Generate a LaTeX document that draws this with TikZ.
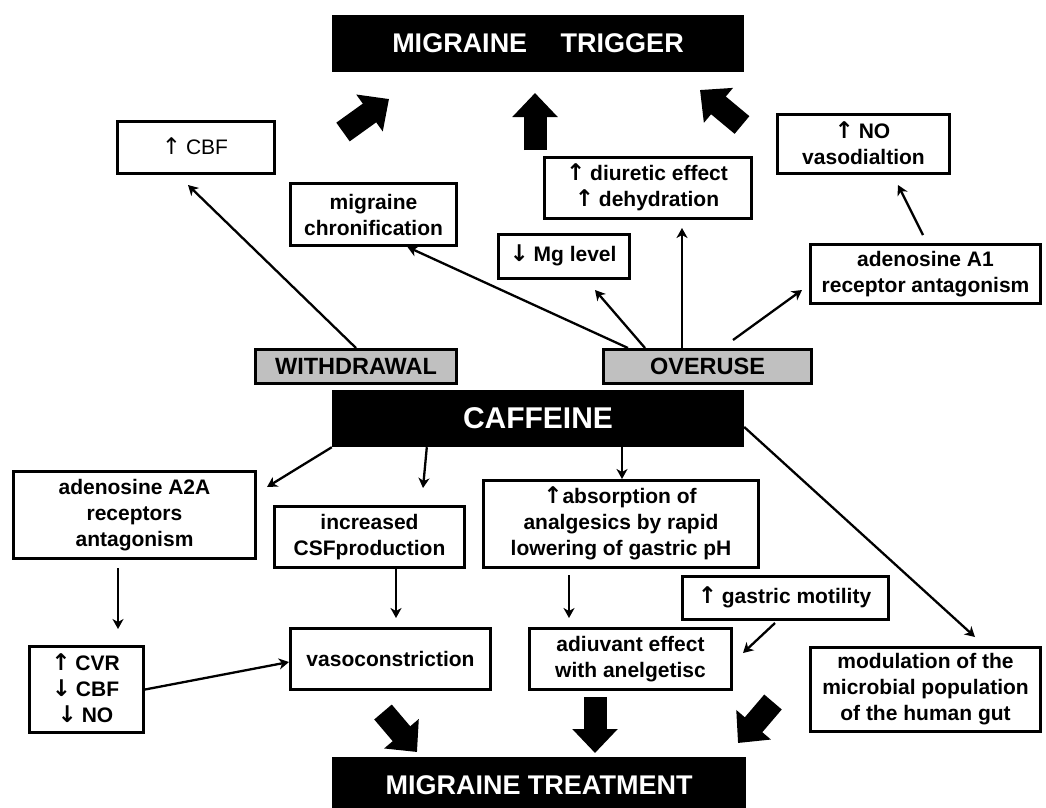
\documentclass[tikz,border=0pt]{standalone}
\usepackage{fontspec}
\setmainfont{Liberation Sans}
\newfontfamily\arrfont{DejaVu Sans}
\usetikzlibrary{arrows.meta}
\definecolor{boxgray}{RGB}{192,192,192}
\newcommand{\fsn}{\fontsize{21}{26}\selectfont}
\newcommand{\fsw}{\fontsize{23.5}{28}\selectfont}
\newcommand{\fst}{\fontsize{27}{32}\selectfont}
\newcommand{\fsc}{\fontsize{30}{36}\selectfont}
\newcommand{\uparr}{\kern-2pt\smash{\arrfont\bfseries\fontsize{23}{26}\selectfont ↑}\kern-1pt}
\newcommand{\dnarr}{\kern-2pt\smash{\arrfont\bfseries\fontsize{23}{26}\selectfont ↓}\kern-1pt}
\newcommand{\uparrl}{\kern-2pt\smash{\arrfont\fontsize{23}{26}\selectfont ↑}\kern-1pt}
\tikzset{
  box/.style={draw, line width=3pt, fill=white, align=center, inner sep=0pt, font=\fsn\bfseries},
  thinbox/.style={draw, line width=3pt, fill=white, align=center, inner sep=0pt, font=\fsn},
  gbox/.style={draw, line width=3pt, fill=boxgray, align=center, inner sep=0pt, font=\fsw\bfseries},
  blk/.style={fill=black, text=white, inner sep=0pt, minimum width=412pt, minimum height=57pt},
  conn/.style={line width=2.3pt, -{Stealth[length=10pt,width=11pt,inset=3pt]}},
  big/.style={line width=23pt, -{Triangle[length=24pt,width=44pt]}}
}
\begin{document}
\begin{tikzpicture}[x=1pt,y=-1pt]
\useasboundingbox (0,0) rectangle (1046,807);

% black headers
\node[blk, font=\fst\bfseries] (trig) at (538,43.5) {MIGRAINE\hspace{26pt} TRIGGER};
\node[blk, font=\fsc\bfseries] (caf) at (538,418.5) {CAFFEINE};
\node[blk, font=\fst\bfseries, minimum width=414pt] (treat) at (539,785.5) {MIGRAINE TREATMENT};

% upper boxes
\node[thinbox, minimum width=157pt, minimum height=52pt] (cbf) at (196,147.5) {\uparrl{} CBF};
\node[box, minimum width=166pt, minimum height=62pt] (chron) at (373.5,214.5) {migraine\\chronification};
\node[box, minimum width=207pt, minimum height=61pt] (diur) at (648,188) {\uparr{} diuretic effect\\\uparr{} dehydration};
\node[box, minimum width=172pt, minimum height=59pt] (no) at (863.5,144) {\uparr{} NO\\vasodialtion};
\node[box, minimum width=131pt, minimum height=44pt] (mg) at (564,256.5) {\dnarr{} Mg level};
\node[box, minimum width=230pt, minimum height=59pt] (a1) at (925.5,274) {adenosine A1\\receptor antagonism};
\node[gbox, minimum width=201pt, minimum height=34pt] (wd) at (356,366.5) {WITHDRAWAL};
\node[gbox, minimum width=208pt, minimum height=34pt] (ov) at (707.5,366.5) {OVERUSE};

% lower boxes
\node[box, minimum width=242pt, minimum height=87pt] (a2a) at (134.5,515) {adenosine A2A\\receptors\\antagonism};
\node[box, minimum width=190pt, minimum height=61pt] (csf) at (369.5,537) {increased\\CSFproduction};
\node[box, minimum width=275pt, minimum height=87pt] (abs) at (621,524) {\uparr\kern1pt absorption of\\analgesics by rapid\\lowering of gastric pH};
\node[box, minimum width=206pt, minimum height=43pt] (gm) at (785.5,598) {\uparr{} gastric motility};
\node[box, minimum width=114pt, minimum height=86pt] (cvr) at (86.5,689.5) {\uparr{} CVR\\\dnarr{} CBF\\\dnarr{} NO};
\node[box, minimum width=200pt, minimum height=61pt] (vaso) at (390.5,659) {vasoconstriction};
\node[box, minimum width=202pt, minimum height=61pt] (adj) at (630.5,659) {adiuvant effect\\with anelgetisc};
\node[box, minimum width=230pt, minimum height=84pt] (mod) at (925.5,689.5) {modulation of the\\microbial population\\of the human gut};

% thin connectors
\draw[conn] (wd.north) -- ([xshift=-8pt,yshift=-10pt]cbf.south);
\draw[conn] ([xshift=26pt]ov.north west) -- ([xshift=34pt]chron.south);
\draw[conn] ([xshift=43pt]ov.north west) -- ([xshift=31pt,yshift=-10pt]mg.south);
\draw[conn] ([xshift=80pt]ov.north west) -- ([xshift=34pt,yshift=-8pt]diur.south);
\draw[conn] ([xshift=131pt,yshift=8pt]ov.north west) -- ([xshift=-7pt,yshift=-16pt]a1.west);
\draw[conn] ([xshift=-2.5pt,yshift=8pt]a1.north) -- ([xshift=34.5pt,yshift=-10pt]no.south);
\draw[conn] (caf.south west) -- ([xshift=10pt,yshift=-17pt]a2a.north east);
\draw[conn] ([xshift=95pt]caf.south west) -- ([xshift=53.5pt,yshift=17pt]csf.north);
\draw[conn] ([xshift=84pt]caf.south) -- ([xshift=1pt]abs.north);
\draw[conn] ([yshift=-8.5pt]caf.east) -- ([xshift=49.5pt,yshift=9pt]mod.north);
\draw[conn] ([xshift=-16.5pt,yshift=-8pt]a2a.south) -- ([xshift=31.5pt,yshift=16pt]cvr.north);
\draw[conn] ([xshift=26.5pt]csf.south) -- ([xshift=5.5pt,yshift=9pt]vaso.north);
\draw[conn] (cvr.east) -- ([yshift=-3pt]vaso.west);
\draw[conn] ([xshift=-52pt,yshift=-6pt]abs.south) -- ([xshift=-61.5pt,yshift=9pt]adj.north);
\draw[conn] ([xshift=-10.5pt,yshift=-2pt]gm.south) -- ([xshift=10pt,yshift=6pt]adj.east);

% big block arrows
\coordinate (t1a) at (343,132); \coordinate (t1b) at (389,99);
\coordinate (t2a) at (535,150); \coordinate (t2b) at (535,93);
\coordinate (t3a) at (742,125); \coordinate (t3b) at (700,90);
\coordinate (b1a) at (383,712); \coordinate (b1b) at (417,752);
\coordinate (b2a) at (595,697); \coordinate (b2b) at (595,753);
\coordinate (b3a) at (773,702); \coordinate (b3b) at (738,743);
\draw[big] (t1a) -- (t1b);
\draw[big] (t2a) -- (t2b);
\draw[big] (t3a) -- (t3b);
\draw[big] (b1a) -- (b1b);
\draw[big] (b2a) -- (b2b);
\draw[big] (b3a) -- (b3b);
\end{tikzpicture}
\end{document}
